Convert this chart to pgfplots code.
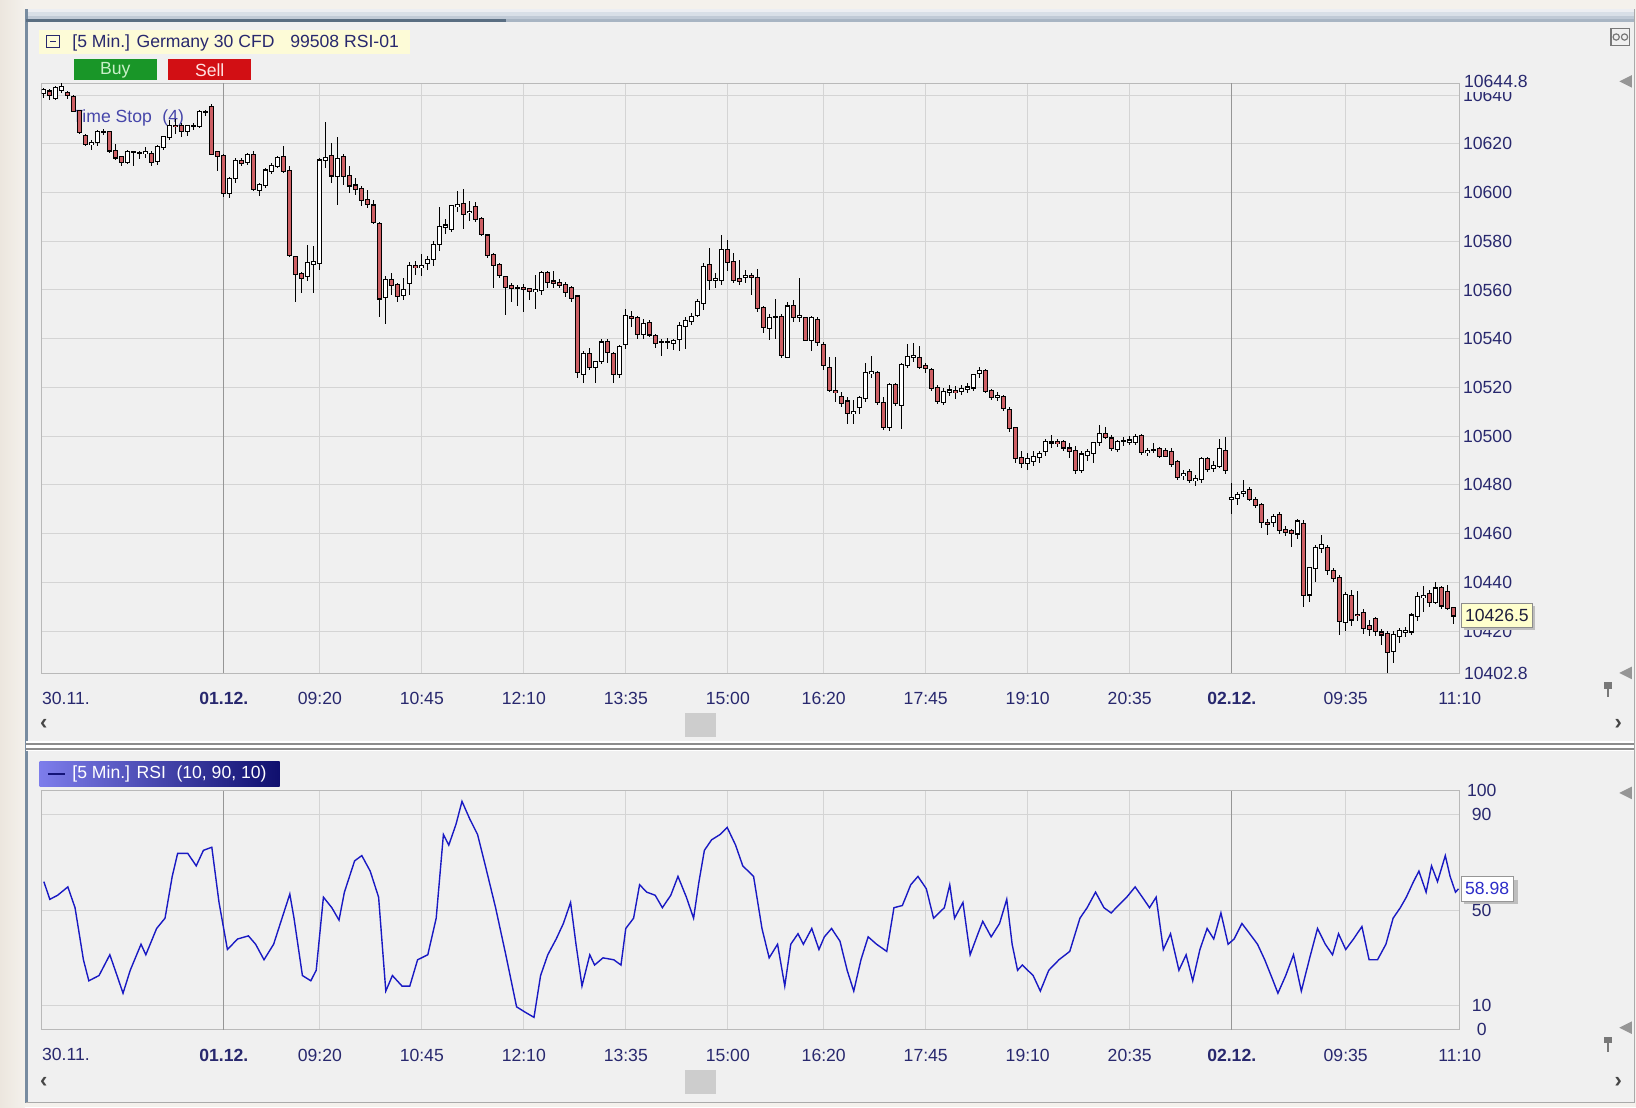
\documentclass[border=0pt]{standalone}
\usepackage{pgfplots}
\pgfplotsset{compat=1.18}
\usepackage{pgfplotstable}
\usepackage{fontspec}
\setmainfont{Liberation Sans}

\definecolor{outerbg}{RGB}{244,241,236}
\definecolor{panelbg}{RGB}{240,240,240}
\definecolor{gridc}{RGB}{212,212,212}
\definecolor{axisc}{RGB}{185,185,185}
\definecolor{daygrid}{RGB}{150,150,150}
\definecolor{labc}{RGB}{40,40,110}
\definecolor{candlered}{RGB}{205,95,100}
\definecolor{rsiblue}{RGB}{25,25,195}
\definecolor{hdrbg}{RGB}{253,251,215}
\definecolor{buyg}{RGB}{25,150,40}
\definecolor{sellr}{RGB}{210,15,20}
\definecolor{framel}{RGB}{120,140,160}
\definecolor{tabdark}{RGB}{90,110,130}
\definecolor{bar1}{RGB}{236,238,242}
\definecolor{bar2}{RGB}{216,223,231}
\definecolor{bar3}{RGB}{192,202,214}
\definecolor{bar4}{RGB}{168,181,195}
\definecolor{frameg}{RGB}{170,170,170}
\definecolor{sepc}{RGB}{140,140,140}
\definecolor{buytxt}{RGB}{200,240,200}
\definecolor{selltxt}{RGB}{255,225,225}
\definecolor{tstop}{RGB}{70,70,170}
\definecolor{leglight}{RGB}{125,125,235}
\definecolor{legdark}{RGB}{15,15,110}
\definecolor{legdash}{RGB}{20,20,120}
\definecolor{thumbc}{RGB}{205,205,205}
\definecolor{arrowc}{RGB}{70,70,70}
\definecolor{markc}{RGB}{150,150,150}
\definecolor{iconc}{RGB}{120,120,120}
\definecolor{shadowc}{RGB}{190,190,190}
\definecolor{valbg}{RGB}{255,255,205}
\definecolor{valtxt}{RGB}{30,30,60}
\definecolor{rsival}{RGB}{45,45,200}
\definecolor{edgec}{RGB}{236,230,222}

\newcommand{\lab}{\fontsize{8.8}{10.5}\selectfont}

% 5-minute candles: bar index, open, high, low, close
\pgfplotstableread{
i o h l c
0 10641 10643 10639 10642
1 10641.5 10642.5 10638 10640
2 10639 10644 10638 10643
3 10642 10645 10641 10643.5
4 10641 10642 10638.5 10640
5 10639 10640 10633 10633.6
6 10633.5 10634 10624 10625
7 10623.5 10624 10619 10620
8 10620 10621.5 10617.5 10620.5
9 10620.7 10625.5 10619 10624.8
10 10624.8 10626 10623.5 10624.8
11 10624.8 10625.5 10616.5 10617.3
12 10617.3 10620 10613.5 10614.5
13 10614.5 10615 10611 10612.5
14 10612.5 10617.5 10611.5 10616.6
15 10616.6 10617.3 10611 10616.6
16 10616.3 10617 10614 10616.3
17 10616.3 10619 10614.5 10616.6
18 10616 10617 10611 10612.5
19 10613 10619.5 10611.5 10618.6
20 10618.6 10623 10617.5 10622.7
21 10623 10630 10621.5 10627.5
22 10627.5 10630 10624 10627.3
23 10627.5 10628.5 10623 10625.5
24 10625.5 10628 10623.5 10627.5
25 10627.5 10628.5 10625.5 10627.5
26 10627.5 10634 10626.5 10633
27 10633 10634 10631.5 10633
28 10635 10636.5 10615.5 10616
29 10616.5 10617 10609 10615
30 10615 10616 10598.5 10600
31 10600 10606.5 10598 10605.7
32 10606 10614 10604 10613
33 10613 10614 10611 10612.5
34 10612.5 10616.5 10611.5 10615.5
35 10615.5 10617 10600.5 10601.6
36 10601 10604 10598.5 10603
37 10603 10610 10602 10609
38 10609 10612 10607.5 10611
39 10611 10615 10610 10614
40 10614.5 10619 10608 10609
41 10609 10611 10573.5 10574.3
42 10573.6 10574 10555 10566.8
43 10566.8 10567.5 10559 10565
44 10566 10578.5 10564 10571
45 10571 10578 10559 10571.5
46 10571 10614 10568 10613.2
47 10613.2 10629 10610 10614
48 10615 10620.5 10604 10607
49 10607 10622.7 10595 10614
50 10614.5 10616 10603 10607
51 10607 10611 10600 10603
52 10603 10606 10599 10601.5
53 10601.5 10603 10594.5 10597
54 10597 10601 10593.5 10595.4
55 10594.7 10597 10587 10588
56 10587 10588 10549 10556.6
57 10557 10566 10546 10564
58 10564 10567 10558 10562
59 10562 10563 10555 10557.5
60 10558 10565 10556 10560
61 10563 10571.5 10558 10570
62 10570 10572 10566 10569.5
63 10569.5 10575 10566 10570
64 10571 10574 10568 10572.5
65 10573 10580 10570 10578.4
66 10579 10594 10576 10585.8
67 10585.8 10589 10583 10586.5
68 10585 10595 10584 10594.6
69 10594.6 10600.7 10592 10594.8
70 10595.3 10601.3 10585 10591.2
71 10592 10596.6 10588.5 10592.3
72 10594 10596 10588 10589.2
73 10589.2 10590 10582 10583
74 10582.4 10583 10573 10574.3
75 10574.3 10575 10561 10570.3
76 10570.3 10571 10565 10566.2
77 10565.5 10566 10550 10561.5
78 10561.5 10563 10555 10561
79 10561 10562 10553.5 10561
80 10561 10562.5 10551 10560.5
81 10560.5 10561 10556 10559.5
82 10559.5 10566 10552 10560
83 10560.1 10568 10558 10566.9
84 10567 10568 10561 10563.5
85 10563.5 10568 10561 10563
86 10563 10564.5 10561 10562
87 10562 10563.5 10557 10559
88 10560.8 10561.5 10555 10556.8
89 10557.4 10558 10524 10526.4
90 10525.7 10535 10522 10533.8
91 10533.8 10536 10527 10528.4
92 10528.4 10531 10522 10530.5
93 10531.1 10540 10529.5 10538.5
94 10538.5 10540 10530 10534.5
95 10533.8 10534.5 10522 10525.7
96 10525.7 10537.5 10524 10536.5
97 10537.8 10552.5 10536 10549.3
98 10549 10551.5 10545 10548.5
99 10548.6 10549.5 10540 10541.9
100 10542 10548 10540 10546
101 10546.6 10547.5 10540.5 10541.9
102 10541.2 10542 10536 10538.5
103 10538.5 10540 10533 10538.5
104 10538.5 10540.5 10536 10538.5
105 10538.5 10540 10535.5 10539
106 10539.9 10547 10535 10545.3
107 10545.3 10549 10536 10547.3
108 10547.3 10550.5 10545.5 10549
109 10550 10556.5 10549 10555
110 10554.7 10571 10552 10569.6
111 10570.3 10577.3 10560 10564.2
112 10564.2 10567 10561 10564.5
113 10564.2 10582.7 10562 10576.4
114 10576.4 10580.5 10568 10571.6
115 10571.6 10575 10563 10564.2
116 10564.5 10572.5 10562 10564
117 10565.5 10568 10563 10566
118 10566 10567 10558 10565.5
119 10565 10568.5 10551 10552.6
120 10552.6 10553.5 10542.5 10545
121 10544.4 10550 10539.5 10548.5
122 10549 10556.5 10540 10549
123 10549 10550 10532 10533.4
124 10532.7 10555 10532 10553.3
125 10553.3 10556 10547 10549
126 10549 10565 10547 10549.5
127 10548.5 10549 10539 10539.6
128 10539.6 10549.5 10535 10548.5
129 10547.8 10549 10537 10538.9
130 10537.5 10538.5 10527 10529.3
131 10528 10532.5 10518 10519
132 10518.5 10532.5 10514 10518
133 10516.3 10518 10512 10513.6
134 10514.3 10516 10505 10509.5
135 10509.5 10515 10505 10510
136 10512 10516.5 10509 10515.6
137 10515.6 10530 10514 10526
138 10526 10533 10524 10526.3
139 10526 10527 10513 10514.3
140 10513.6 10516 10502.5 10504
141 10504 10522 10502 10521
142 10521 10522 10512.5 10513.6
143 10513 10530 10503 10529.3
144 10529.3 10538 10528 10532.7
145 10532.7 10538.5 10530.5 10533
146 10532 10537 10527.5 10528.6
147 10528.6 10530 10526 10528
148 10527.3 10528 10518.5 10519.7
149 10519.7 10521 10513 10514.3
150 10514.3 10520 10513 10518.4
151 10518.4 10521 10516.5 10518.8
152 10518.5 10520.5 10515.5 10518
153 10518.5 10521 10517 10519.5
154 10519.5 10522 10518 10520
155 10520 10525.5 10518.5 10525
156 10526 10528.5 10524 10526.6
157 10526.6 10527.5 10517.5 10518.4
158 10518.4 10519.5 10515 10516.3
159 10516.3 10518 10514.5 10516.5
160 10516.3 10517 10510.5 10511.5
161 10510.8 10512 10502 10503.3
162 10503.3 10504 10489 10491
163 10491 10494 10487 10489
164 10489 10493 10486 10490.5
165 10490 10494 10488 10491.5
166 10491.5 10494 10489 10492.8
167 10494.2 10499 10492 10497.6
168 10497.5 10500.5 10495 10497.5
169 10497.5 10499 10495.5 10497.3
170 10497.5 10498.5 10494 10495.4
171 10495 10497 10491 10494
172 10494 10496 10484.5 10486
173 10486 10494 10485 10492.5
174 10492.5 10495 10490 10493.5
175 10493 10497.5 10489 10497
176 10497.6 10504.5 10496 10501
177 10501 10504 10499 10499.8
178 10499 10500.5 10494 10495
179 10495 10498.5 10493.5 10497.6
180 10498 10499.5 10496 10498
181 10497.6 10500 10496.5 10498.2
182 10497.6 10501 10496.5 10499.6
183 10500.3 10501 10492.5 10493.5
184 10493.5 10495 10492 10494
185 10494.5 10497 10493 10494.5
186 10494.8 10495.5 10491 10492
187 10494 10495 10491.5 10492
188 10493.5 10495 10487.5 10488.7
189 10489.4 10490.5 10482 10483.3
190 10484 10486 10482 10484.6
191 10485.3 10486.5 10481 10481.9
192 10482 10484 10479.5 10482.6
193 10482.6 10491.5 10481 10490.7
194 10490.7 10491.5 10485.5 10486.7
195 10487 10490 10485.5 10488
196 10488 10499 10487 10494.8
197 10494 10499.5 10484.5 10486
198 10474.4 10481 10468.3 10474.8
199 10474.5 10477 10472 10476
200 10477 10482 10475 10477.2
201 10478 10479 10473.5 10474.4
202 10473.7 10475 10470.5 10471.7
203 10471.7 10472.5 10462.5 10465
204 10464.5 10466 10459.5 10464.2
205 10464.9 10468 10463 10467
206 10467.6 10469 10460 10461.5
207 10461.5 10463 10459 10460.5
208 10461 10462 10454.7 10460.5
209 10460.1 10466 10458 10465
210 10464.2 10465.5 10430 10435
211 10435 10446 10432 10445.8
212 10446 10455.5 10440 10454
213 10454 10459.5 10452 10455.3
214 10454 10455.5 10443 10445
215 10444.5 10446 10440 10441.8
216 10441.8 10443 10418.5 10424
217 10424 10436 10420 10435
218 10434.3 10437 10422 10424.8
219 10426.8 10436.3 10424 10426.5
220 10427.5 10429 10419 10421.4
221 10422 10424.5 10418 10420.8
222 10424.8 10426 10418 10420
223 10419.5 10421 10414.5 10418.7
224 10419 10420 10402.8 10411.5
225 10412 10420 10407 10418.5
226 10418 10421.5 10415 10420
227 10420 10422 10417.5 10420.3
228 10420 10427.5 10418.5 10426.5
229 10426.5 10436 10424 10434
230 10434 10438.5 10428 10434.5
231 10435 10437 10430 10432
232 10432 10440 10431 10437.5
233 10437.5 10438.5 10429 10430.5
234 10436 10439 10428.5 10429.5
235 10429.5 10430 10423 10426.5
}\candles

% RSI(10) per bar
\pgfplotstableread{
i v
0 62.0
1 54.6
2.3 56.3
4 59.8
5.2 51.1
6.6 29.3
7.5 20.5
9.2 22.7
11 31.4
12.2 22.7
13.2 15.3
14.4 24.9
16.2 35.8
17 31.4
18.8 42.4
20.2 46.7
21.4 64.2
22.3 73.8
24 73.8
25.4 68.6
26.6 75.1
28 76.4
29.2 53.3
30.6 33.6
32.3 38.0
34.1 39.3
35.3 35.8
36.7 29.3
38.3 35.8
39.7 46.7
41 56.8
41.7 46.7
43.1 22.7
44.5 20.5
45.4 24.9
46.6 55.5
48 51.1
49.2 45.9
50.1 57.6
51.8 70.7
53 72.9
54.4 66.4
55.8 55.5
57 16.2
58.1 22.7
59.7 18.3
61 18.3
62.3 29.3
64 31.4
65.4 46.7
66.6 81.7
67.5 77.3
68.7 86.0
69.7 95.6
71 88.2
72.3 81.7
73.6 68.6
75.3 51.1
77 31.4
78.8 9.6
80.2 7.4
81.7 5.2
82.8 22.7
84 31.4
85.4 38.0
86.6 44.5
87.8 53.3
88.7 35.8
89.7 18.3
91 31.4
91.8 27.1
93.2 30.1
95 29.3
96.2 27.1
97 42.4
98.3 46.7
99.3 60.7
100.5 57.6
101.9 56.3
103.1 51.1
104.5 56.3
105.7 64.2
107.1 55.5
108.3 46.7
109.2 62.0
110.1 75.1
111.3 79.5
112.7 81.7
113.9 84.7
115.3 77.3
116.5 68.6
118.3 64.2
119.7 42.4
120.9 30.1
122.3 35.8
123.5 18.3
124.5 35.8
125.7 40.2
126.6 35.8
128 42.4
129.2 33.6
130.1 38.9
131.3 42.4
132.7 37.1
133.9 24.9
135 16.2
136.2 29.3
137.4 38.9
138.8 35.8
140.5 32.8
141.7 51.1
143.1 52.0
144.5 60.7
145.7 64.2
147.1 59.0
148.3 46.7
150.1 51.1
151 60.7
151.8 46.7
153.2 53.3
154.4 31.4
155.7 40.2
156.5 45.4
157.9 38.9
159.3 44.5
160.5 54.6
161.4 35.8
162.3 24.9
163.1 27.1
164.9 22.7
166.1 16.2
167.5 24.9
169.2 29.3
171 32.8
172.7 46.7
173.9 51.1
175.3 57.6
176.7 51.1
177.9 48.9
179.1 52.0
180.5 55.5
181.9 59.8
183.1 55.5
184.3 51.1
185.4 55.5
186.6 33.6
187.8 40.2
189.2 24.9
190.4 31.4
191.5 20.5
192.7 33.6
193.9 42.4
195 38.0
196.2 48.9
197.4 35.8
198.4 38.0
199.7 44.5
201 40.2
202.3 35.8
203.5 29.3
204.9 20.5
205.7 15.3
207 22.7
208.3 31.4
209.6 16.2
211 30.1
212.3 42.4
213.6 35.8
214.8 31.4
215.8 40.2
217 33.6
218.3 38.0
219.7 43.2
220.9 29.3
222.3 29.3
223.7 35.8
224.9 46.7
226.1 51.1
227.1 55.5
228.3 62.0
229.2 66.4
230.4 57.6
231.3 68.6
232.3 62.0
233.6 72.9
234.4 64.2
235.3 57.6
235.8 58.98
}\rsi

\pgfplotsset{
  chart/.style={
    scale only axis, width=709pt,
    xmin=-0.35, xmax=236,
    axis line style={axisc},
    xmajorgrids, ymajorgrids,
    grid style={gridc, line width=0.5pt},
    major tick length=0pt,
    scaled x ticks=false, scaled y ticks=false,
    xtick={46,63,80,97,114,130,147,164,181,217,236},
    xticklabels={09:20,10:45,12:10,13:35,15:00,16:20,17:45,19:10,20:35,09:35,11:10},
    extra x ticks={30,198},
    extra x tick labels={\textbf{01.12.},\textbf{02.12.}},
    extra x tick style={major grid style={daygrid, line width=0.6pt}},
    ticklabel style={font=\lab, text=labc},
    xticklabel style={yshift=-6.2pt},
    yticklabel pos=right,
  },
  wick/.style={draw=none, mark=none, forget plot,
    error bars/.cd, y dir=both, y explicit, error mark=none,
    error bar style={draw=black, line width=0.65pt}},
  body/.style 2 args={draw=none, mark=none, forget plot,
    error bars/.cd, y dir=both, y explicit, error mark=none,
    error bar style={draw=#1, line width=#2}},
}

\begin{document}
% one unit = one pixel of the reference as displayed (1568 x 1061)
\begin{tikzpicture}[x=0.5217pt,y=0.5217pt]
\useasboundingbox (0,0) rectangle (1568,1061);

% window chrome, drawn in pixel coordinates (y downwards)
\begin{scope}[shift={(0,1061)},yscale=-1]
  \fill[outerbg] (0,0) rectangle (1568,1061);
  \shade[left color=edgec, right color=outerbg] (0,0) rectangle (24,1061);
  % title bar gradient
  \fill[bar1] (25,9) rectangle (1566,12);
  \fill[bar2] (25,12) rectangle (1566,15);
  \fill[bar3] (25,15) rectangle (1566,18);
  \fill[bar4] (25,18) rectangle (1566,21);
  \fill[panelbg] (25,21) rectangle (1566,1057);
  \draw[framel, line width=1.5pt] (25,9) -- (25,1057);
  \draw[tabdark, line width=1.6pt] (25,19.5) -- (485,19.5);
  \draw[frameg] (1566,9) -- (1566,1057) -- (25,1057);
  % separator between the two panes
  \fill[white] (25,710) rectangle (1566,720);
  \draw[sepc, line width=1pt] (25,713) -- (1566,713);
  \draw[sepc, line width=1pt] (25,718) -- (1566,718);
  % header
  \fill[hdrbg] (37,29) rectangle (393,52);
  \draw[labc, line width=0.5pt] (45,34) rectangle (57,46);
  \draw[labc, line width=0.6pt] (48,40) -- (54,40);
  \node[anchor=west, font=\lab, text=labc, inner sep=0pt] at (69,41)
    {[5 Min.] Germany 30 CFD\hspace{0.9em}99508 RSI-01};
  \fill[buyg] (71,57) rectangle (150,77);
  \node[font=\lab, text=buytxt] at (110.5,67) {Buy};
  \fill[sellr] (161,57) rectangle (241,77);
  \node[font=\lab, text=selltxt] at (201,67) {Sell};
  \node[anchor=west, font=\lab, text=tstop, inner sep=0pt] at (69,113)
    {Time Stop\hspace{0.6em}(4)};
  % RSI legend
  \shade[left color=leglight, right color=legdark] (38,730) rectangle (268,754);
  \draw[legdash, line width=1pt] (46,742) -- (62,742);
  \node[anchor=west, font=\lab, text=white, inner sep=0pt] at (69,742)
    {[5 Min.] RSI\hspace{0.6em}(10, 90, 10)};
  % scroll bars
  \fill[thumbc] (657,683) rectangle (686,706);
  \fill[thumbc] (657,1026) rectangle (686,1049);
  \foreach \yy in {694,1037}{
    \node[font=\fontsize{11}{12}\selectfont\bfseries, text=arrowc] at (42,\yy) {‹};
    \node[font=\fontsize{11}{12}\selectfont\bfseries, text=arrowc] at (1551,\yy) {›};
  }
  % right-hand markers
  \foreach \yy in {78,645,760,985}{
    \fill[markc] (1552,\yy) -- (1564,\yy-6) -- (1564,\yy+6) -- cycle;
  }
  \draw[iconc, line width=0.6pt] (1544,27) rectangle (1562,44);
  \draw[iconc, line width=0.6pt] (1549,35.5) circle (3) (1557,35.5) circle (3);
  \foreach \yy in {660,1000}{
    \fill[iconc] (1537,\yy-6) rectangle (1545,\yy);
    \draw[iconc, line width=0.8pt] (1541,\yy) -- (1541,\yy+8);
  }
\end{scope}

% price pane (units 40..1399 wide, bottom edge at 645 from top)
\begin{axis}[chart,
  at={(20.87pt,217.03pt)}, anchor=south west, height=294.8pt,
  ymin=10402.8, ymax=10644.8,
  ytick={10420,10440,...,10640},
  yticklabels={10420,10440,10460,10480,10500,10520,10540,10560,10580,10600,10620,10640},
  yticklabel style={anchor=west, inner xsep=1.5pt},
]
\addplot[wick] table[x=i, y expr={(\thisrow{h}+\thisrow{l})/2},
  y error expr={(\thisrow{h}-\thisrow{l})/2}] {\candles};
\addplot[body={black}{2.6pt}] table[x=i, y expr={(\thisrow{o}+\thisrow{c})/2},
  y error expr={abs(\thisrow{o}-\thisrow{c})/2+0.45}] {\candles};
\addplot[restrict expr to domain={\thisrow{o}-\thisrow{c}}{0.0001:10000},
  body={candlered}{1.55pt}] table[x=i, y expr={(\thisrow{o}+\thisrow{c})/2},
  y error expr={abs(\thisrow{o}-\thisrow{c})/2}] {\candles};
\addplot[restrict expr to domain={\thisrow{c}-\thisrow{o}}{0:10000},
  body={white}{1.55pt}] table[x=i, y expr={(\thisrow{o}+\thisrow{c})/2},
  y error expr={abs(\thisrow{o}-\thisrow{c})/2}] {\candles};
\end{axis}

% RSI pane (bottom edge at 987 from top)
\begin{axis}[chart,
  at={(20.87pt,38.61pt)}, anchor=south west, height=119.47pt,
  ymin=0, ymax=100,
  ytick={0,10,50,90,100},
  yticklabels={0,10,50,90,100},
  yticklabel style={anchor=center, xshift=11pt},
]
\addplot[rsiblue, line width=0.7pt, mark=none] table[x=i, y=v] {\rsi};
\end{axis}

% labels and value boxes on top
\begin{scope}[shift={(0,1061)},yscale=-1]
  \node[fill=panelbg, anchor=west, font=\lab, text=labc, inner xsep=1.5pt, inner ysep=2.2pt] at (1400,78) {10644.8};
  \node[anchor=west, font=\lab, text=labc, inner xsep=1.5pt] at (1400,645) {10402.8};
  \node[anchor=west, font=\lab, text=labc, inner sep=0pt] at (40,669) {30.11.};
  \node[anchor=west, font=\lab, text=labc, inner sep=0pt] at (40,1011) {30.11.};
  \fill[shadowc] (1403,581) rectangle (1471,604);
  \node[draw=sepc, fill=valbg, text=valtxt, font=\lab,
    inner xsep=2pt, inner ysep=3pt, anchor=west] at (1400,590) {10426.5};
  \fill[shadowc] (1403,843) rectangle (1455,866);
  \node[draw=markc, fill=white, text=rsival, font=\lab,
    inner xsep=2pt, inner ysep=3pt, anchor=west] at (1400,852) {58.98};
\end{scope}
\end{tikzpicture}
\end{document}
